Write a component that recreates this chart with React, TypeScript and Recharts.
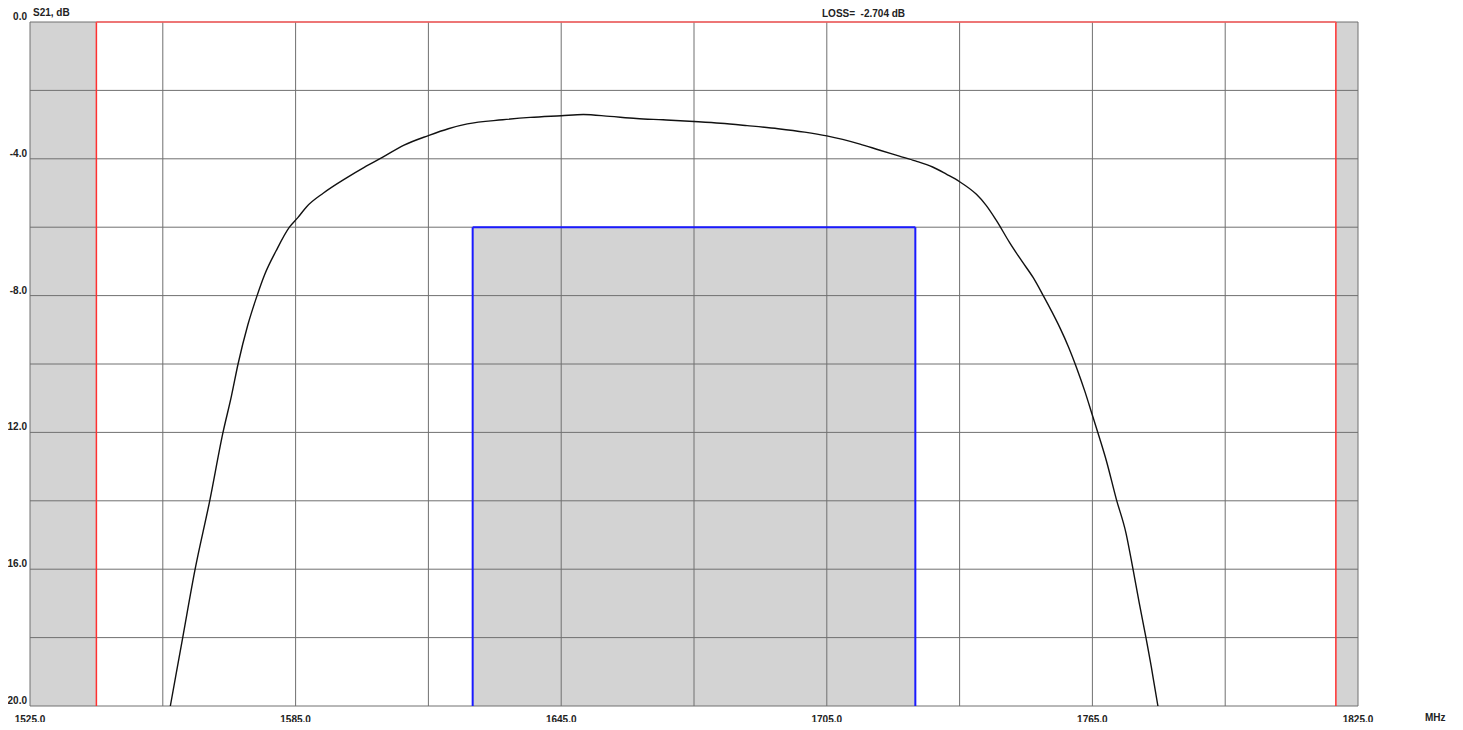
import React from 'react';
import {
  ComposedChart, Line, XAxis, YAxis, ReferenceArea, ReferenceLine,
} from 'recharts';

// S21 sweep (MHz, dB)
const FREQ = [
  1556.7, 1559.5, 1562.3, 1565.6, 1568.6, 1570.5, 1572.0, 1574.2, 1576.3, 1578.0,
  1580.6, 1583.6, 1585.5, 1587.5, 1591.3, 1596.6, 1600.5, 1604.6, 1609.5, 1615.0,
  1619.5, 1623.8, 1631.8, 1638.0, 1645.0, 1650.0, 1656.0, 1662.0, 1668.0, 1675.0,
  1681.0, 1687.0, 1694.0, 1700.0, 1705.0, 1712.5, 1717.0, 1721.4, 1725.0, 1728.9,
  1732.0, 1735.0, 1738.8, 1741.0, 1743.3, 1746.3, 1749.0, 1751.6, 1753.9, 1755.8,
  1757.7, 1759.6, 1761.4, 1763.3, 1765.0, 1766.7, 1768.2, 1770.4, 1772.6, 1774.1,
  1775.6, 1777.1, 1778.3, 1779.0, 1779.8,
];
const S21 = [
  -20.0, -18.0, -16.0, -14.0, -12.0, -10.94, -10.0, -8.86, -8.0, -7.39,
  -6.69, -6.0, -5.72, -5.4, -5.0, -4.55, -4.25, -3.96, -3.6, -3.32,
  -3.12, -2.98, -2.86, -2.79, -2.74, -2.704, -2.76, -2.82, -2.86, -2.91,
  -2.96, -3.03, -3.12, -3.22, -3.33, -3.57, -3.75, -3.92, -4.06, -4.24,
  -4.45, -4.67, -5.04, -5.36, -5.8, -6.45, -6.98, -7.47, -8.0, -8.46,
  -8.95, -9.5, -10.1, -10.8, -11.5, -12.2, -12.85, -13.95, -14.95, -15.95,
  -17.0, -18.0, -18.85, -19.39, -20.0,
];

const X_GRID = [1525, 1555, 1585, 1615, 1645, 1675, 1705, 1735, 1765, 1795, 1825];
const X_LABELS = [1525, 1585, 1645, 1705, 1765, 1825];
const Y_GRID = [0, -2, -4, -6, -8, -10, -12, -14, -16, -18, -20];
const Y_LABELS = [0, -4, -8, -12, -16, -20];

// spec mask
const PASS_LO = 1540;
const PASS_HI = 1820;
const BOX_LO = 1625;
const BOX_HI = 1725;
const BOX_LEVEL = -6;
const LOSS = -2.704;

const data = FREQ.map((f, i) => ({ f, s21: S21[i] }));

const FONT = '"Liberation Sans", Arial, sans-serif';
const GRID = '#707070';
const SHADE = '#d3d3d3';

const XTick = ({ x, y, payload }: any) => (
  <text x={x} y={y + 15} textAnchor="middle" fontFamily={FONT} fontSize={10} fontWeight={700} fill="#222">
    {Number(payload.value).toFixed(1)}
  </text>
);

const YTick = ({ x, y, payload }: any) => (
  <text x={x - 1} y={y - 2} textAnchor="end" fontFamily={FONT} fontSize={10} fontWeight={700} fill="#222">
    {Number(payload.value).toFixed(1)}
  </text>
);

export default function App() {
  return (
    <div style={{ position: 'relative', width: 1463, height: 730, margin: -8, background: '#fff' }}>
      <ComposedChart width={1463} height={730} data={data} margin={{ top: 22, right: 105, left: 0, bottom: 0 }}>
        <XAxis dataKey="f" type="number" domain={[1525, 1825]} ticks={X_LABELS} axisLine={false}
          tickLine={false} tickSize={0} height={24} tick={<XTick />} interval={0} allowDataOverflow />
        <YAxis type="number" domain={[-20, 0]} ticks={Y_LABELS} axisLine={false} tickLine={false}
          tickSize={0} width={30} tick={<YTick />} interval={0} allowDataOverflow />

        <ReferenceArea x1={1525} x2={PASS_LO} y1={-20} y2={0} fill={SHADE} fillOpacity={1} stroke="none" />
        <ReferenceArea x1={PASS_HI} x2={1825} y1={-20} y2={0} fill={SHADE} fillOpacity={1} stroke="none" />
        <ReferenceArea x1={BOX_LO} x2={BOX_HI} y1={-20} y2={BOX_LEVEL} fill={SHADE} fillOpacity={1} stroke="none" />

        {X_GRID.map((v) => <ReferenceLine key={'x' + v} x={v} stroke={GRID} strokeWidth={1} />)}
        {Y_GRID.map((v) => <ReferenceLine key={'y' + v} y={v} stroke={GRID} strokeWidth={1} />)}

        <ReferenceLine x={PASS_LO} stroke="#ff3030" strokeWidth={1.5} />
        <ReferenceLine x={PASS_HI} stroke="#ff3030" strokeWidth={1.5} />
        <ReferenceLine segment={[{ x: PASS_LO, y: 0 }, { x: PASS_HI, y: 0 }]} stroke="#ff6060" strokeWidth={1.5} />

        <ReferenceLine segment={[{ x: BOX_LO, y: -20 }, { x: BOX_LO, y: BOX_LEVEL }]} stroke="#1a1aff" strokeWidth={2} />
        <ReferenceLine segment={[{ x: BOX_HI, y: -20 }, { x: BOX_HI, y: BOX_LEVEL }]} stroke="#1a1aff" strokeWidth={2} />
        <ReferenceLine segment={[{ x: BOX_LO, y: BOX_LEVEL }, { x: BOX_HI, y: BOX_LEVEL }]} stroke="#1a1aff" strokeWidth={2} />

        <Line dataKey="s21" type="monotone" stroke="#111" strokeWidth={1.4} dot={false} activeDot={false}
          isAnimationActive={false} />
      </ComposedChart>
      <svg width={1463} height={730} style={{ position: 'absolute', left: 0, top: 0, pointerEvents: 'none' }}>
        <text x={33} y={16} fontFamily={FONT} fontSize={10} fontWeight={700} fill="#222">S21, dB</text>
        <text x={822} y={16.5} fontFamily={FONT} fontSize={10} fontWeight={700} fill="#222" style={{ whiteSpace: 'pre' }}>
          {'LOSS=  ' + LOSS.toFixed(3) + ' dB'}
        </text>
        <text x={1425} y={721} fontFamily={FONT} fontSize={10} fontWeight={700} fill="#222">MHz</text>
      </svg>
    </div>
  );
}
